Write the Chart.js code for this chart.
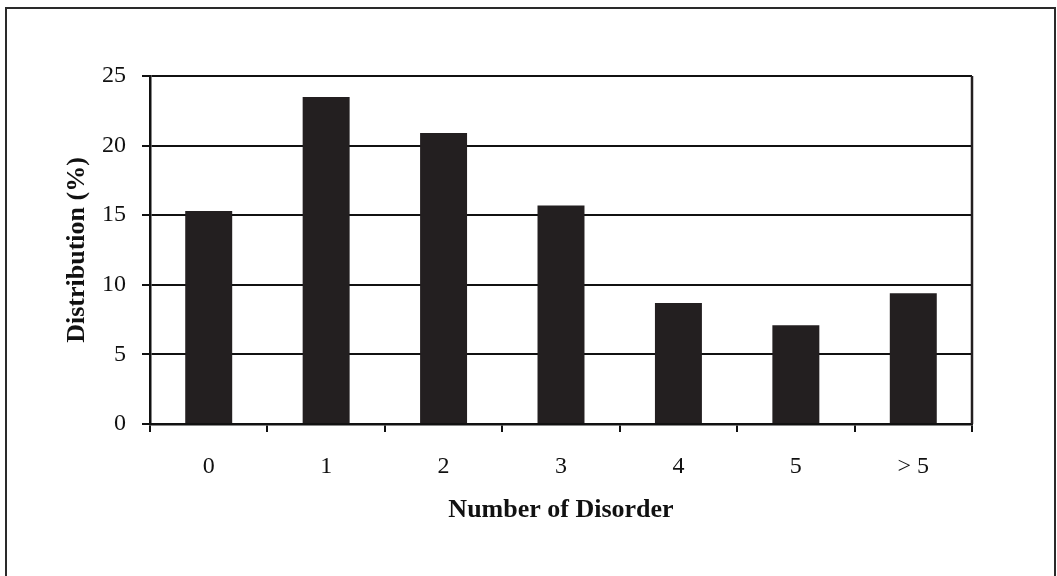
<!DOCTYPE html>
<html>
<head>
<meta charset="utf-8">
<script src="https://cdn.jsdelivr.net/npm/chart.js@4.4.1/dist/chart.umd.min.js"></script>
<style>
html,body{margin:0;padding:0;background:#fff;}
canvas{display:block;}
</style>
</head>
<body>
<canvas id="c" width="1057" height="576"></canvas>
<script>
const categories = ['0', '1', '2', '3', '4', '5', '> 5'];
const distribution = [15.3, 23.5, 20.9, 15.7, 8.7, 7.1, 9.4];
const yTicks = [0, 5, 10, 15, 20, 25];
const xTitle = 'Number of Disorder';
const yTitle = 'Distribution (%)';

const frame = {
  id: 'frame',
  beforeDraw(chart) {
    const ctx = chart.ctx;
    ctx.save();
    ctx.fillStyle = '#fff';
    ctx.fillRect(0, 0, chart.width, chart.height);
    ctx.restore();
  },
  afterDraw(chart) {
    const ctx = chart.ctx;
    const a = chart.chartArea;
    ctx.save();
    ctx.strokeStyle = '#2a2a2a';
    ctx.lineWidth = 2;
    ctx.beginPath();
    ctx.moveTo(6, chart.height + 2);
    ctx.lineTo(6, 8);
    ctx.lineTo(1055, 8);
    ctx.lineTo(1055, chart.height + 2);
    ctx.stroke();
    ctx.strokeStyle = '#231f20';
    ctx.lineWidth = 2.5;
    ctx.beginPath();
    ctx.moveTo(a.right, a.top);
    ctx.lineTo(a.right, a.bottom);
    ctx.stroke();
    ctx.restore();
  }
};

const font = { family: "'Liberation Serif', 'Times New Roman', serif", size: 24 };
const boldFont = { family: "'Liberation Serif', 'Times New Roman', serif", size: 26, weight: 'bold' };

new Chart(document.getElementById('c'), {
  type: 'bar',
  data: {
    labels: categories,
    datasets: [{
      data: distribution,
      backgroundColor: '#231f20',
      borderWidth: 0,
      barPercentage: 0.4,
      categoryPercentage: 1.0
    }]
  },
  options: {
    responsive: false,
    animation: false,
    devicePixelRatio: 1,
    layout: { padding: { left: 0, top: 76, right: 85, bottom: 0 } },
    plugins: { legend: { display: false }, tooltip: { enabled: false } },
    scales: {
      x: {
        afterFit(s) { s.height = 152; },
        grid: { display: true, offset: true, drawOnChartArea: false, drawTicks: true, tickLength: 8, color: '#111', lineWidth: 2 },
        border: { display: true, color: '#111', width: 2.5 },
        ticks: { color: '#111', font: font, padding: 20 },
        title: { display: true, text: xTitle, color: '#111', font: boldFont, padding: { top: 0, bottom: 50 } }
      },
      y: {
        min: 0, max: 25,
        afterFit(s) { s.width = 150; },
        afterBuildTicks(s) { s.ticks = yTicks.map(v => ({ value: v })); },
        grid: { display: true, drawTicks: true, tickLength: 8, color: '#111', lineWidth: 2 },
        border: { display: true, color: '#111', width: 2.5 },
        ticks: { color: '#111', font: font, padding: 16 },
        title: { display: true, text: yTitle, color: '#111', font: boldFont, padding: { top: 62, bottom: 0 } }
      }
    }
  },
  plugins: [frame]
});
</script>
</body>
</html>
